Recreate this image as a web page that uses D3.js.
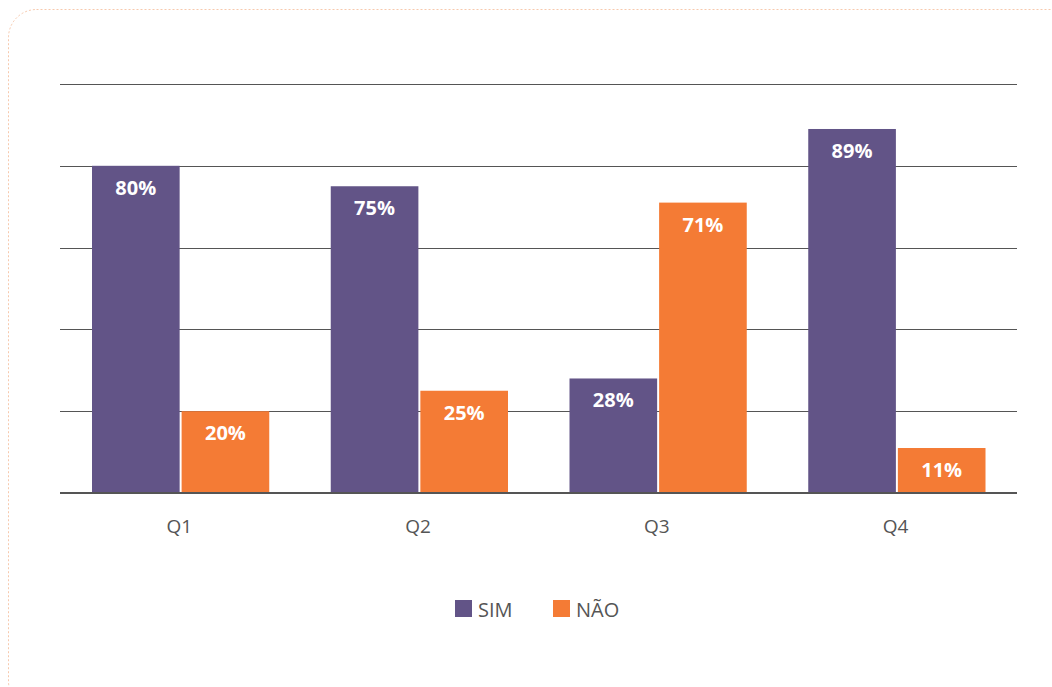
<!DOCTYPE html>
<html>
<head>
<meta charset="utf-8">
<script src="https://cdn.jsdelivr.net/npm/d3@7"></script>
<style>
  html, body { margin: 0; padding: 0; background: #fff; }
  svg { display: block; font-family: "Open Sans", sans-serif; }
</style>
</head>
<body>
<svg id="chart" width="1052" height="687"></svg>
<script>
// Quarterly answers, share of respondents (%)
const categories = ["Q1", "Q2", "Q3", "Q4"];
const seriesNames = ["SIM", "NÃO"];
const simValues = [80, 75, 28, 89];
const naoValues = [20, 25, 71, 11];
const gridTicks = [0, 20, 40, 60, 80, 100];
const colors = ["#625487", "#F47B35"];

const rows = categories.map((c, i) => ({ cat: c, values: [simValues[i], naoValues[i]] }));

const svg = d3.select("#chart");

// card outline
svg.append("rect")
  .attr("x", 8.5).attr("y", 9.5)
  .attr("width", 1080).attr("height", 700)
  .attr("rx", 28).attr("ry", 28)
  .attr("fill", "none")
  .attr("stroke", "#f7c9ad")
  .attr("stroke-width", 1)
  .attr("stroke-dasharray", "2,2");

const plotLeft = 60, plotRight = 1017, plotTop = 84, plotBottom = 493;

const x0 = d3.scaleBand().domain(categories).range([plotLeft, plotLeft + 955]).padding(0);
const x1 = d3.scaleBand().domain(d3.range(seriesNames.length))
  .range([32, x0.bandwidth() - 29.5]).paddingInner(0.022);
const y = d3.scaleLinear().domain([0, 100]).range([plotBottom, plotTop]);

// horizontal grid
svg.append("g")
  .selectAll("line")
  .data(gridTicks.filter(t => t > 0))
  .join("line")
  .attr("x1", plotLeft).attr("x2", plotRight)
  .attr("y1", d => Math.round(y(d)) + 0.5)
  .attr("y2", d => Math.round(y(d)) + 0.5)
  .attr("stroke", "#555")
  .attr("stroke-width", 1);

// bars
const groups = svg.append("g")
  .selectAll("g")
  .data(rows)
  .join("g")
  .attr("transform", d => `translate(${x0(d.cat)},0)`);

groups.selectAll("rect")
  .data(d => d.values.map((v, i) => ({ v, i })))
  .join("rect")
  .attr("x", d => x1(d.i))
  .attr("y", d => y(d.v))
  .attr("width", x1.bandwidth())
  .attr("height", d => y(0) - y(d.v))
  .attr("fill", d => colors[d.i]);

groups.selectAll("text")
  .data(d => d.values.map((v, i) => ({ v, i })))
  .join("text")
  .attr("x", d => x1(d.i) + x1.bandwidth() / 2)
  .attr("y", d => y(d.v) + 29)
  .attr("text-anchor", "middle")
  .attr("fill", "#fff")
  .attr("font-weight", 700)
  .attr("font-size", 20)
  .text(d => d.v + "%");

// baseline + category axis
const xAxis = svg.append("g")
  .attr("transform", `translate(0,${plotBottom})`)
  .call(d3.axisBottom(x0).tickSize(0));
xAxis.select(".domain").attr("stroke", "#555").attr("stroke-width", 2.2)
  .attr("d", `M${plotLeft},0H${plotRight}`);
xAxis.selectAll("text")
  .attr("y", 39.5)
  .attr("dy", null)
  .attr("font-family", "Open Sans, sans-serif")
  .attr("font-size", 19)
  .attr("fill", "#555");

// legend
const legendX = [455, 553];
const legend = svg.append("g").selectAll("g")
  .data(seriesNames)
  .join("g")
  .attr("transform", (d, i) => `translate(${legendX[i]},600)`);
legend.append("rect")
  .attr("width", 17).attr("height", 17)
  .attr("fill", (d, i) => colors[i]);
legend.append("text")
  .attr("x", 23).attr("y", 16.5)
  .attr("font-size", 20)
  .attr("fill", "#555")
  .text(d => d);
</script>
</body>
</html>
